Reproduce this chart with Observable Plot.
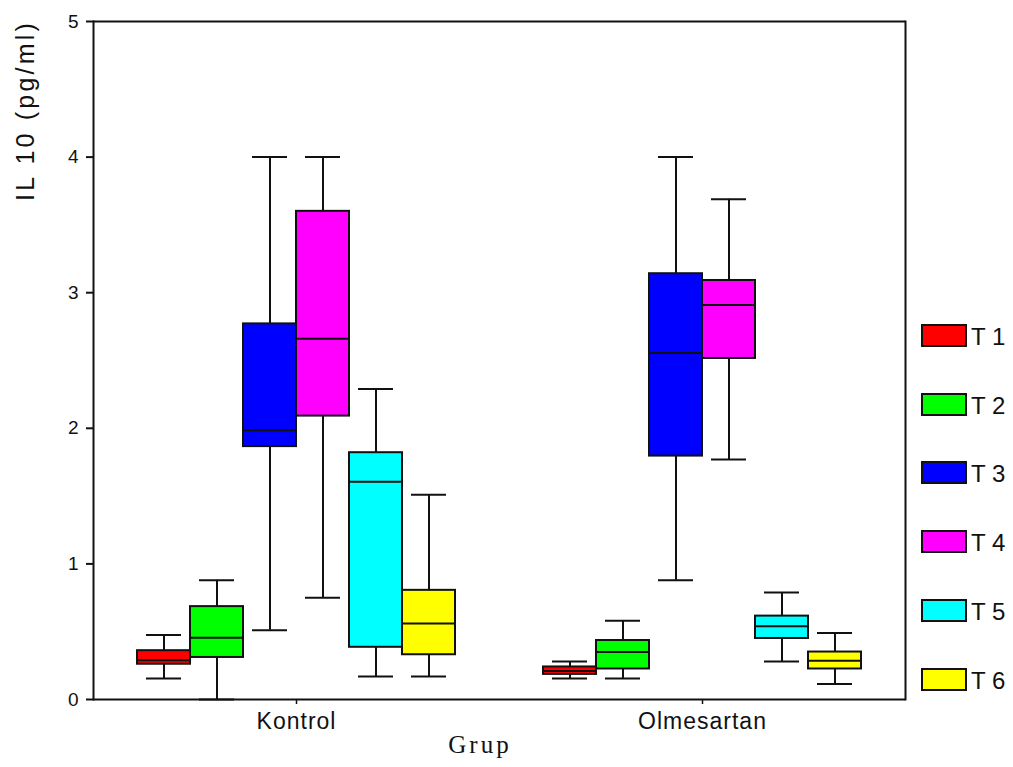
<!DOCTYPE html>
<html><head><meta charset="utf-8">
<script src="https://cdn.jsdelivr.net/npm/d3@7"></script>
<script src="https://cdn.jsdelivr.net/npm/@observablehq/plot@0.6"></script>
<style>
body{margin:0;background:#fff;}
#wrap{position:relative;width:1013px;height:767px;overflow:hidden;}
.sw{position:absolute;box-sizing:border-box;border:2px solid #111;}
.lt{position:absolute;font-family:"Liberation Sans",Arial,sans-serif;font-size:24px;line-height:24px;color:#111;}
</style>
</head><body><div id="wrap"></div>
<script>
const groups = ["Kontrol", "Olmesartan"];
const times = ["T 1", "T 2", "T 3", "T 4", "T 5", "T 6"];
const colors = ["#ff0000", "#00ff00", "#0000ff", "#ff00ff", "#00ffff", "#ffff00"];
const yTicks = [0, 1, 2, 3, 4, 5];

// Kontrol
const kMin = [0.155, 0.00, 0.51, 0.75, 0.17, 0.17];
const kQ1  = [0.26, 0.31, 1.865, 2.09, 0.385, 0.33];
const kMed = [0.29, 0.455, 1.985, 2.66, 1.605, 0.56];
const kQ3  = [0.36, 0.685, 2.77, 3.60, 1.82, 0.805];
const kMax = [0.475, 0.88, 4.00, 4.00, 2.29, 1.51];
// Olmesartan
const oMin = [0.155, 0.155, 0.88, 1.77, 0.28, 0.115];
const oQ1  = [0.185, 0.225, 1.795, 2.515, 0.45, 0.225];
const oMed = [0.21, 0.35, 2.555, 2.91, 0.54, 0.285];
const oQ3  = [0.24, 0.435, 3.14, 3.09, 0.615, 0.35];
const oMax = [0.28, 0.58, 4.00, 3.69, 0.79, 0.49];

const stats = {
  Kontrol: [kMin, kQ1, kMed, kQ3, kMax],
  Olmesartan: [oMin, oQ1, oMed, oQ3, oMax]
};
const data = [];
for (const g of groups) {
  const [mn, q1, md, q3, mx] = stats[g];
  times.forEach((t, i) => data.push({group: g, time: t, min: mn[i], q1: q1[i], med: md[i], q3: q3[i], max: mx[i]}));
}

const ink = "#111";
const chart = Plot.plot({
  width: 1013,
  height: 767,
  marginLeft: 92,
  marginRight: 108,
  marginTop: 21,
  marginBottom: 68,
  style: {fontFamily: "'Liberation Sans', Arial, sans-serif", fontSize: "17px", color: ink, background: "#fff"},
  fx: {domain: groups, padding: 0, label: null},
  x: {domain: times, padding: 0, inset: 42, axis: null},
  y: {domain: [0, 5], label: null},
  color: {domain: times, range: colors},
  marks: [
    Plot.ruleX(data, {fx: "group", x: "time", y1: "min", y2: "max", stroke: ink, strokeWidth: 2}),
    Plot.tickY(data, {fx: "group", x: "time", y: "min", stroke: ink, strokeWidth: 2, inset: 9}),
    Plot.tickY(data, {fx: "group", x: "time", y: "max", stroke: ink, strokeWidth: 2, inset: 9}),
    Plot.barY(data, {fx: "group", x: "time", y1: "q1", y2: "q3", fill: "time", stroke: ink, strokeWidth: 2}),
    Plot.tickY(data, {fx: "group", x: "time", y: "med", stroke: ink, strokeWidth: 2}),
    Plot.ruleY([0, 5], {stroke: ink, strokeWidth: 2}),
    Plot.frame({anchor: "left", facetAnchor: "left", stroke: ink, strokeWidth: 2}),
    Plot.frame({anchor: "right", facetAnchor: "right", stroke: ink, strokeWidth: 2}),
    Plot.axisY({ticks: yTicks, tickFormat: "d", tickSize: 7, tickPadding: 8, label: null, strokeWidth: 2, fontSize: 19}),
    Plot.axisFx({anchor: "bottom", tickSize: 5, tickPadding: 8, label: null, strokeWidth: 1.5, fontSize: 23})
  ]
});

const svg = d3.select(chart);
svg.selectAll("[aria-label='y-axis tick label'], [aria-label='y-axis tick label'] text").attr("font-size", 19).style("font-size", "19px");
svg.selectAll("[aria-label='fx-axis tick label'], [aria-label='fx-axis tick label'] text").attr("font-size", 23).style("font-size", "23px").style("letter-spacing", "1px");
svg.append("text")
  .attr("transform", "translate(34,20) rotate(-90)")
  .attr("text-anchor", "end")
  .attr("fill", ink)
  .style("font-family", "'Liberation Sans', Arial, sans-serif")
  .style("font-size", "25px")
  .style("letter-spacing", "3.2px")
  .text("IL 10 (pg/ml)");
svg.append("text")
  .attr("x", 480)
  .attr("y", 753)
  .attr("text-anchor", "middle")
  .attr("fill", ink)
  .style("font-family", "'Liberation Serif', 'Times New Roman', serif")
  .style("font-size", "25px")
  .style("letter-spacing", "3px")
  .text("Grup");

const wrap = document.getElementById("wrap");
wrap.appendChild(chart);
chart.style.position = "absolute";
chart.style.left = "0px";
chart.style.top = "0px";

times.forEach((t, i) => {
  const top = 324 + i * 68.7;
  const sw = document.createElement("div");
  sw.className = "sw";
  sw.style.left = "921px";
  sw.style.top = top + "px";
  sw.style.width = "46px";
  sw.style.height = "23px";
  sw.style.background = colors[i];
  wrap.appendChild(sw);
  const lt = document.createElement("div");
  lt.className = "lt";
  lt.style.left = "971px";
  lt.style.top = (top + 1) + "px";
  lt.textContent = t;
  wrap.appendChild(lt);
});
</script>
</body></html>
